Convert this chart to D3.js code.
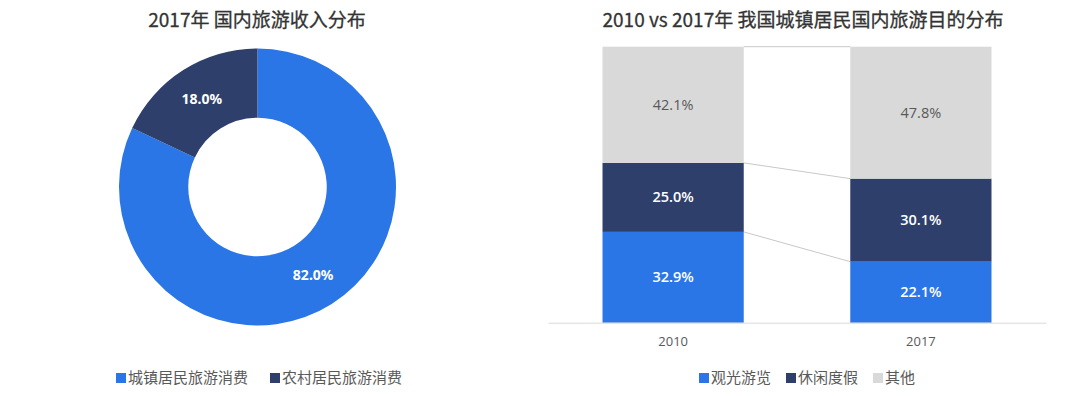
<!DOCTYPE html>
<html>
<head>
<meta charset="utf-8">
<script src="https://cdn.jsdelivr.net/npm/d3@7/dist/d3.min.js"></script>
<style>
  html, body { margin: 0; padding: 0; background: #fff; }
  svg { display: block; font-family: "Noto Sans CJK SC", "Noto Sans", sans-serif; }
</style>
</head>
<body>
<svg width="1080" height="396"></svg>
<script>
// donut data
const incomeNames = ['城镇居民旅游消费', '农村居民旅游消费'];
const incomeValues = [82.0, 18.0];

// stacked bar data
const years = ['2010', '2017'];
const purposeNames = ['观光游览', '休闲度假', '其他'];
const sightseeing = [32.9, 22.1];
const leisure = [25.0, 30.1];
const other = [42.1, 47.8];

const colors = ['#2b76e6', '#2e3f6c', '#d9d9d9'];
const labelColors = ['#fff', '#fff', '#595959'];

const svg = d3.select('svg');

// ---------- left: donut ----------
svg.append('text')
  .attr('x', 257).attr('y', 27)
  .attr('text-anchor', 'middle')
  .attr('font-size', 19).attr('font-weight', 400)
  .attr('fill', '#333')
  .attr('stroke', '#333').attr('stroke-width', 0.3)
  .text('2017年 国内旅游收入分布');

const outerR = 138.5;
const pie = d3.pie().sort(null).value(d => d);
const arc = d3.arc().innerRadius(outerR * 0.5).outerRadius(outerR);

const donut = svg.append('g').attr('transform', 'translate(257.5,187)');
const slices = donut.selectAll('g').data(pie(incomeValues)).join('g');
slices.append('path')
  .attr('d', arc)
  .attr('fill', (d, i) => colors[i]);
slices.append('text')
  .attr('transform', d => `translate(${arc.centroid(d)})`)
  .attr('text-anchor', 'middle')
  .attr('dy', '0.35em')
  .attr('font-family', '"Noto Sans", sans-serif')
  .attr('font-size', 14).attr('font-weight', 'bold')
  .attr('fill', '#fff')
  .text(d => d.data.toFixed(1) + '%');

const legL = svg.append('g').attr('transform', 'translate(116,378)');
incomeNames.forEach((n, i) => {
  const g = legL.append('g').attr('transform', `translate(${i * 154},0)`);
  g.append('rect').attr('x', 0).attr('y', -5).attr('width', 10).attr('height', 10).attr('fill', colors[i]);
  g.append('text').attr('x', 12).attr('dy', '0.35em')
    .attr('font-size', 15).attr('fill', '#595959').text(n);
});

// ---------- right: stacked bars ----------
svg.append('text')
  .attr('x', 803).attr('y', 27)
  .attr('text-anchor', 'middle')
  .attr('font-size', 19).attr('font-weight', 400)
  .attr('fill', '#333')
  .attr('stroke', '#333').attr('stroke-width', 0.3)
  .text('2010 vs 2017年 我国城镇居民国内旅游目的分布');

const rows = years.map((y, i) => ({
  year: y,
  '观光游览': sightseeing[i],
  '休闲度假': leisure[i],
  '其他': other[i]
}));
const series = d3.stack().keys(purposeNames)(rows);

const x = d3.scaleBand().domain(years).range([548, 1046]).paddingInner(0.43).paddingOuter(0.22);
const y = d3.scaleLinear().domain([0, 100]).range([322.7, 46.7]);

// connector lines between the bars
const bw = x.bandwidth();
series.forEach(s => {
  svg.append('line')
    .attr('x1', x(years[0]) + bw).attr('y1', y(s[0][1]))
    .attr('x2', x(years[1])).attr('y2', y(s[1][1]))
    .attr('stroke', '#c8c8c8').attr('stroke-width', 1);
});

const layers = svg.append('g').selectAll('g').data(series).join('g')
  .attr('fill', (d, i) => colors[i]);
layers.selectAll('rect').data(d => d).join('rect')
  .attr('x', d => x(d.data.year))
  .attr('y', d => y(d[1]))
  .attr('width', bw)
  .attr('height', d => y(d[0]) - y(d[1]));

series.forEach((s, k) => {
  svg.append('g').selectAll('text').data(s).join('text')
    .attr('x', d => x(d.data.year) + bw / 2)
    .attr('y', d => (y(d[0]) + y(d[1])) / 2)
    .attr('dy', '0.35em')
    .attr('text-anchor', 'middle')
    .attr('font-family', '"Open Sans", sans-serif')
    .attr('font-size', 14.5)
    .attr('font-weight', k < 2 ? 600 : 400)
    .attr('fill', labelColors[k])
    .text(d => (d[1] - d[0]).toFixed(1) + '%');
});

const xAxis = svg.append('g')
  .attr('transform', `translate(0,${y(0)})`)
  .call(d3.axisBottom(x).tickSize(0).tickPadding(14));
xAxis.select('.domain').attr('stroke', '#d9d9d9');
xAxis.selectAll('text')
  .attr('font-family', '"Open Sans", sans-serif')
  .attr('font-size', 13).attr('fill', '#595959');

const legR = svg.append('g').attr('transform', 'translate(699,378)');
const legOff = [0, 87, 174];
purposeNames.forEach((n, i) => {
  const g = legR.append('g').attr('transform', `translate(${legOff[i]},0)`);
  g.append('rect').attr('x', 0).attr('y', -5).attr('width', 10).attr('height', 10).attr('fill', colors[i]);
  g.append('text').attr('x', 12).attr('dy', '0.35em')
    .attr('font-size', 15).attr('fill', '#595959').text(n);
});
</script>
</body>
</html>
